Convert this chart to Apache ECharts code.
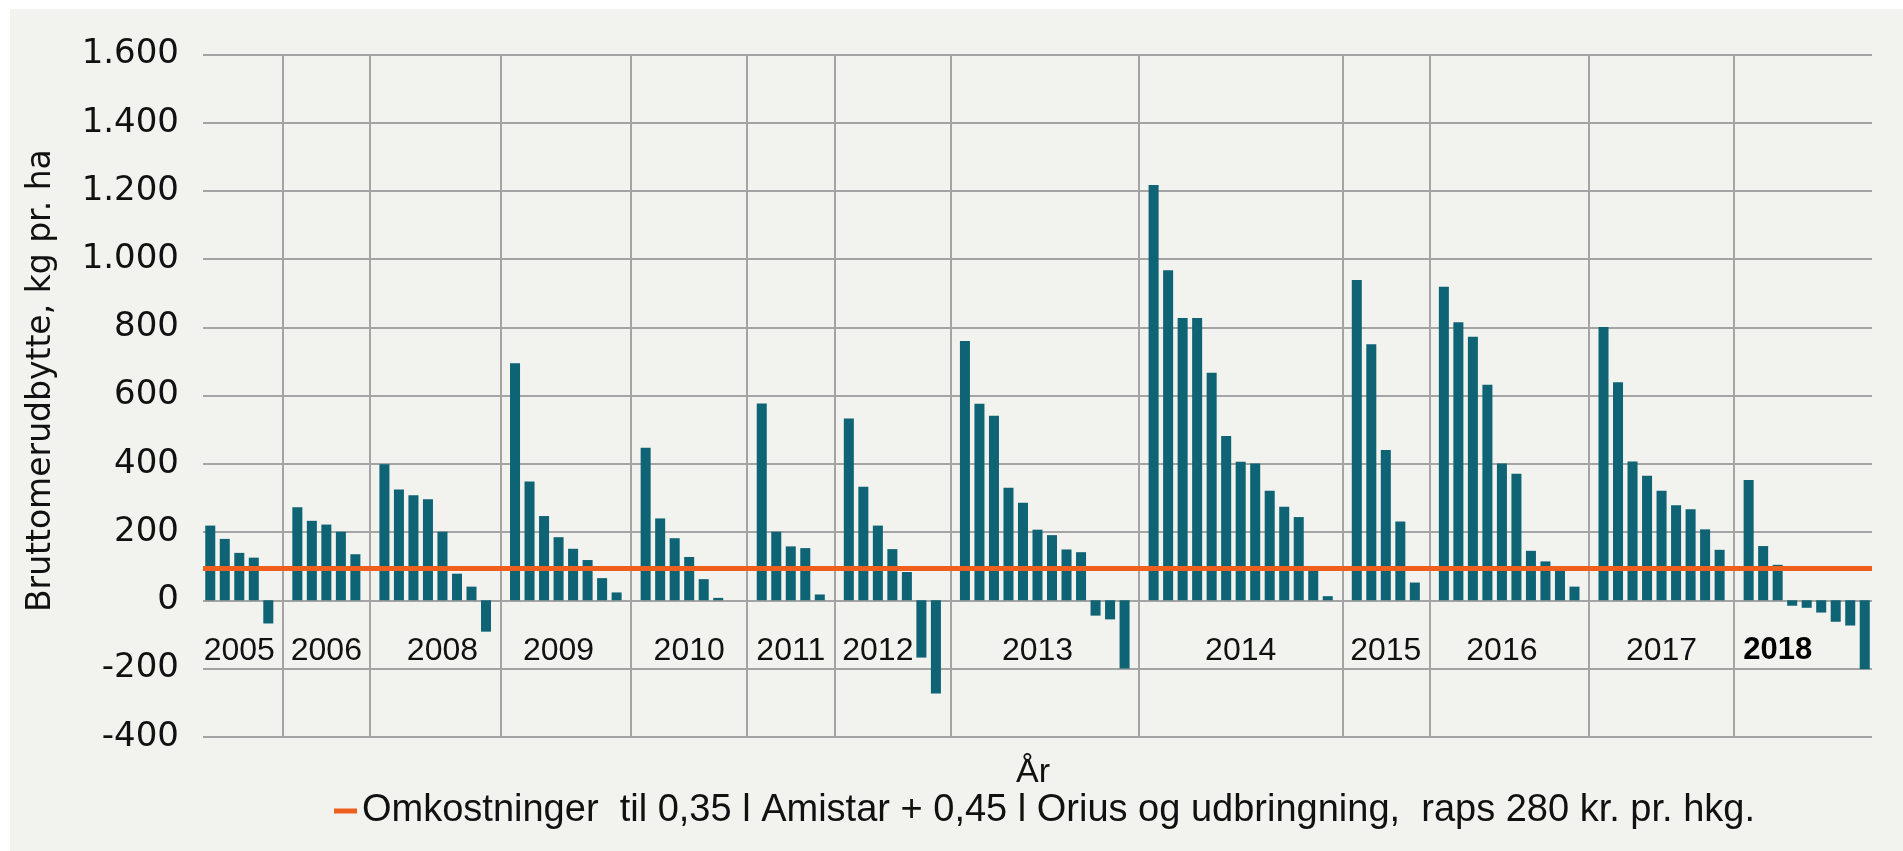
<!DOCTYPE html>
<html>
<head>
<meta charset="utf-8">
<script src="https://cdn.jsdelivr.net/npm/echarts@6/dist/echarts.min.js"></script>
<style>
html,body{margin:0;padding:0;background:#ffffff;width:1903px;height:851px;overflow:hidden}
#c{position:absolute;left:10px;top:9px;width:1893px;height:842px;background:#f2f2ee}
</style>
</head>
<body>
<div id="c"></div>
<script>
// ---- data ----
const years = ['2005','2006','2008','2009','2010','2011','2012','2013','2014','2015','2016','2017','2018'];
const v2005 = [219, 180, 139, 125, -68];
const v2006 = [273, 233, 222, 201, 135];
const v2008 = [399, 325, 308, 296, 201, 78, 40, -92];
const v2009 = [695, 348, 247, 185, 151, 118, 65, 23];
const v2010 = [447, 240, 182, 127, 62, 7];
const v2011 = [577, 201, 158, 153, 17];
const v2012 = [533, 333, 219, 150, 83, -168, -273];
const v2013 = [760, 576, 541, 330, 286, 207, 191, 149, 141, -45, -56, -200];
const v2014 = [1218, 968, 828, 828, 667, 482, 406, 401, 321, 274, 244, 88, 12];
const v2015 = [939, 751, 441, 231, 52];
const v2016 = [919, 815, 773, 632, 401, 371, 145, 114, 87, 40];
const v2017 = [801, 639, 407, 365, 321, 279, 267, 208, 148];
const v2018 = [353, 159, 104, -16, -22, -36, -63, -74, -202];
const gapsAfter = [1, 1, 1, 1, 2, 1, 1, 1, 1, 1, 1, 1, 0];
const costLevel = 95;
const costName = 'Omkostninger  til 0,35 l Amistar + 0,45 l Orius og udbringning,  raps 280 kr. pr. hkg.';
const yMin = -400, yMax = 1600, yStep = 200;
const yTitle = 'Bruttomerudbytte, kg pr. ha';
const xTitle = 'År';
// which bar in each group carries the year label (layout)
const labelSlot = [2, 2, 4, 3, 3, 2, 2, 5, 6, 2, 4, 4, 2];

const groupValues = [v2005, v2006, v2008, v2009, v2010, v2011, v2012, v2013, v2014, v2015, v2016, v2017, v2018];

// ---- build categories ----
const categories = [], values = [], labelAt = {}, separators = [];
groupValues.forEach((vals, g) => {
  vals.forEach((v, i) => {
    const idx = categories.length;
    categories.push(years[g] + '-' + (i + 1));
    values.push(v);
    if (i === labelSlot[g]) labelAt[idx] = years[g];
  });
  for (let k = 0; k < gapsAfter[g]; k++) {
    categories.push(years[g] + '-gap' + k);
    values.push(null);
  }
  if (gapsAfter[g] > 0) separators.push({ xAxis: categories[categories.length - 1] });
});

function fmt(v) {
  const s = String(Math.abs(v)).replace(/\B(?=(\d{3})+(?!\d))/g, '.');
  return (v < 0 ? '-' : '') + s;
}

const chart = echarts.init(document.getElementById('c'), null, { renderer: 'canvas' });
const gridColor = '#a4a4a4';
const orange = '#ee5f1e';
const teal = '#0e6374';

chart.setOption({
  backgroundColor: '#f2f2ee',
  animation: false,
  title: {
    text: xTitle,
    left: 1018,
    top: 742,
    textAlign: 'center',
    textStyle: { fontFamily: 'Liberation Sans', fontSize: 34, fontWeight: 'normal', color: '#111' }
  },
  legend: {
    left: 319,
    top: 778,
    itemWidth: 23,
    itemHeight: 5,
    itemGap: 10,
    data: [{ name: costName, icon: 'rect', itemStyle: { color: orange } }],
    textStyle: { fontFamily: 'Liberation Sans', fontSize: 38, color: '#111' }
  },
  grid: { left: 193, right: 31, top: 45.6, bottom: 114.3, containLabel: false, outerBoundsMode: 'none' },
  xAxis: {
    type: 'category',
    data: categories,
    boundaryGap: true,
    axisLine: { show: false, onZero: false },
    axisTick: { show: false },
    splitLine: { show: false },
    axisLabel: {
      interval: (i) => labelAt[i] !== undefined,
      formatter: (val, i) => {
        const y = labelAt[i];
        if (y === undefined) return '';
        return (y === '2018' ? '{b|' : '{a|') + y + '}';
      },
      margin: -102,
      fontFamily: 'Liberation Sans',
      fontSize: 32,
      color: '#111',
      rich: {
        a: { fontFamily: 'Liberation Sans', fontSize: 32, color: '#111' },
        b: { fontFamily: 'Liberation Sans', fontWeight: 'bold', fontSize: 31, color: '#000' }
      }
    }
  },
  yAxis: {
    type: 'value',
    min: yMin,
    max: yMax,
    interval: yStep,
    name: yTitle,
    nameLocation: 'middle',
    nameGap: 145,
    nameTextStyle: { fontFamily: 'DejaVu Sans', fontSize: 33, color: '#111', padding: [0, 0, 0, 30] },
    axisLine: { show: false },
    axisTick: { show: false },
    axisLabel: { formatter: fmt, fontFamily: 'DejaVu Sans', fontSize: 34, color: '#111', margin: 24 },
    splitLine: { show: true, lineStyle: { color: gridColor, width: 2 } }
  },
  series: [
    {
      type: 'bar',
      name: 'bars',
      data: values,
      barCategoryGap: '31%',
      itemStyle: { color: teal },
      markLine: {
        silent: true,
        symbol: ['none', 'none'],
        label: { show: false },
        lineStyle: { color: gridColor, width: 2, type: 'solid' },
        data: separators
      }
    },
    {
      type: 'line',
      name: costName,
      data: [],
      itemStyle: { color: orange },
      markLine: {
        silent: true,
        symbol: ['none', 'none'],
        label: { show: false },
        lineStyle: { color: orange, width: 5, type: 'solid' },
        data: [{ yAxis: costLevel }]
      }
    }
  ]
});
</script>
</body>
</html>
